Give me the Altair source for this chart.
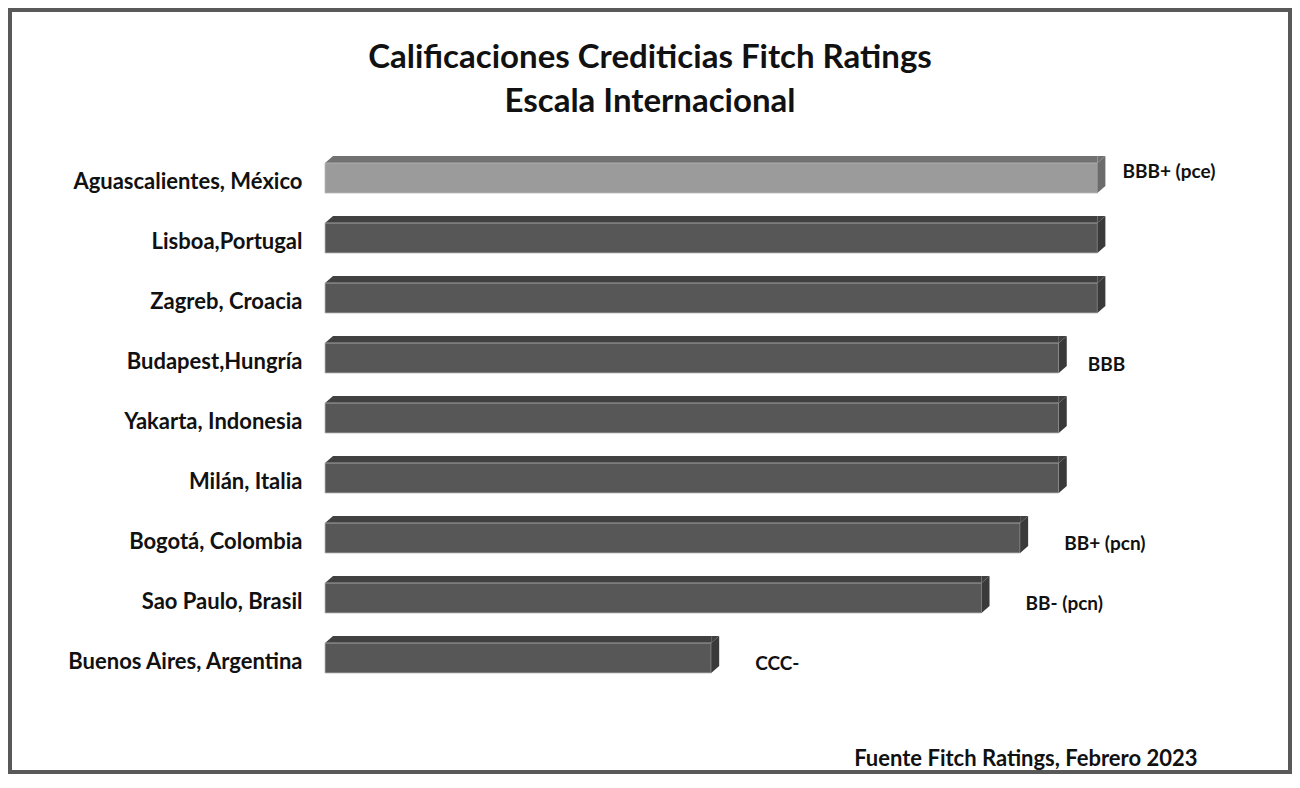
import altair as alt
import pandas as pd

ciudades = [
    "Aguascalientes, México",
    "Lisboa,Portugal",
    "Zagreb, Croacia",
    "Budapest,Hungría",
    "Yakarta, Indonesia",
    "Milán, Italia",
    "Bogotá, Colombia",
    "Sao Paulo, Brasil",
    "Buenos Aires, Argentina",
]
# rating expressed as notch level
nivel = [20, 20, 20, 19, 19, 19, 18, 17, 10]
etiquetas = ["BBB+ (pce)", "", "", "BBB", "", "", "BB+ (pcn)", "BB- (pcn)", "CCC-"]
resaltado = [True, False, False, False, False, False, False, False, False]
titulo = ["Calificaciones Crediticias Fitch Ratings", "Escala Internacional"]
fuente = "Fuente Fitch Ratings, Febrero 2023"

df = pd.DataFrame({"ciudad": ciudades, "nivel": nivel, "etiqueta": etiquetas, "resaltado": resaltado})

W, H = 811, 540
FONT = "Lato"

front_light, front_dark = "#9b9b9b", "#575757"
top_light, top_dark = "#727272", "#414141"
side_light, side_dark = "#6c6c6c", "#3a3a3a"

def cond(a, b):
    return alt.condition("datum.resaltado", alt.value(a), alt.value(b))

y_enc = alt.Y(
    "ciudad:N",
    sort=ciudades,
    scale=alt.Scale(paddingInner=0, paddingOuter=0),
    axis=alt.Axis(
        title=None, ticks=False, domain=False, grid=False,
        labelFont=FONT, labelFontWeight="bold", labelFontSize=22,
        labelColor="#111", labelPadding=23, labelOffset=4, labelLimit=400,
    ),
)
x_scale = alt.Scale(domain=[0, 21], nice=False, zero=True)
x_enc = alt.X(
    "nivel:Q",
    scale=x_scale,
    axis=alt.Axis(
        labels=False, ticks=False, domain=False, grid=False,
        title=fuente,
        titleFont=FONT, titleFontWeight="bold", titleFontSize=22, titleColor="#111",
        titleX=872, titleY=70, titleAlign="right", titleBaseline="middle", titleAnchor="start",
    ),
)
x_plain = alt.X("nivel:Q", scale=x_scale)

base = alt.Chart(df)

frente = base.mark_bar(size=30, stroke="#b8b8b8", strokeWidth=0.8).encode(
    y=y_enc, x=x_enc, x2=alt.datum(0), color=cond(front_light, front_dark)
)
tapa = base.mark_bar(size=7, yOffset=-18.5, x2Offset=8).encode(
    y=y_enc, x=x_plain, x2=alt.datum(0), color=cond(top_light, top_dark)
)
tri_izq = base.mark_point(shape="M0,-15L8,-22L8,-15Z", filled=True, opacity=1, strokeWidth=0, size=4).encode(
    y=y_enc, x=alt.datum(0), color=cond(top_light, top_dark)
)
tri_der = base.mark_point(shape="M0,-15L0,-22L8,-22Z", filled=True, opacity=1, strokeWidth=0, size=4).encode(
    y=y_enc, x=x_plain, color=cond(top_light, top_dark)
)
lado = base.mark_point(shape="M0,-15L8,-22L8,8L0,15Z", filled=True, opacity=1, strokeWidth=0, size=4).encode(
    y=y_enc, x=x_plain, color=cond(side_light, side_dark)
)

def etiquetas_capa(filtro, dx, dy):
    return base.transform_filter(filtro).mark_text(
        align="left", baseline="middle", dx=dx, dy=dy,
        font=FONT, fontWeight="bold", fontSize=19, color="#111",
    ).encode(y=y_enc, x=x_plain, text="etiqueta:N")

texto1 = etiquetas_capa("datum.resaltado", 25, -6)
texto2 = etiquetas_capa("!datum.resaltado && datum.nivel >= 19", 29, 7)
texto3 = etiquetas_capa("datum.nivel < 19", 44, 6)

marco = alt.Chart(alt.Data(values=[{"a": 1}])).mark_rect(
    fillOpacity=0, stroke="#595959", strokeWidth=4
).encode(x=alt.value(-315), x2=alt.value(965), y=alt.value(-138), y2=alt.value(624))

cabecera = alt.Chart(alt.Data(values=[{"a": 1}])).mark_text(
    align="center", baseline="middle", font=FONT, fontWeight="bold",
    fontSize=33, lineHeight=44, color="#111",
).encode(x=alt.value(325), y=alt.value(-90), text=alt.value(titulo))

chart = alt.layer(marco, cabecera, tapa, tri_izq, tri_der, frente, lado, texto1, texto2, texto3).properties(
    width=W,
    height=H,
    padding={"left": 317, "top": 140, "right": 156, "bottom": 86},
    autosize=alt.AutoSizeParams(type="none"),
    background="white",
).configure_view(stroke=None)

chart.save("out.html", embed_options={"renderer": "svg", "actions": False})
